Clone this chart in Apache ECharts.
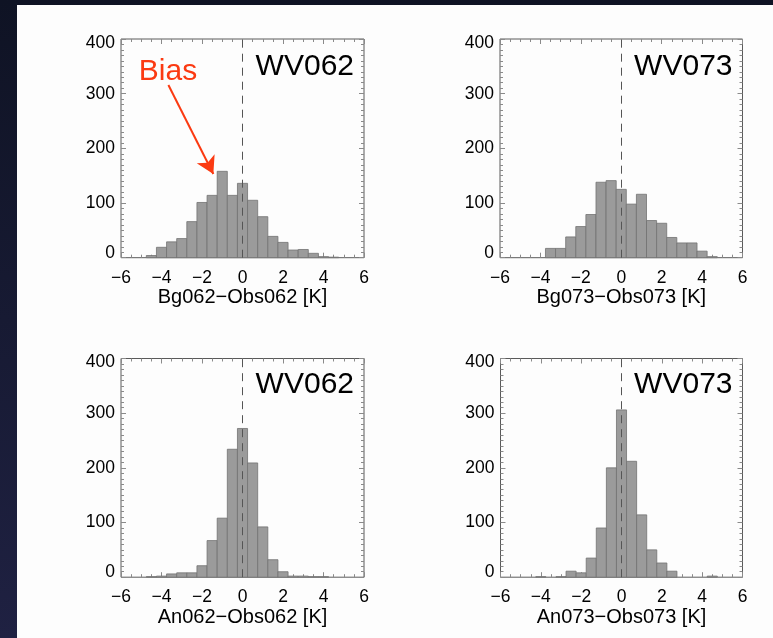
<!DOCTYPE html>
<html>
<head>
<meta charset="utf-8">
<script src="https://cdn.jsdelivr.net/npm/echarts@6/dist/echarts.min.js"></script>
<style>
  html, body { margin: 0; padding: 0; }
  body {
    width: 773px; height: 638px; overflow: hidden; position: relative;
    background: linear-gradient(180deg, #0f1324 0%, #1f2142 100%);
  }
  /* white slide area */
  .paper { position: absolute; left: 17px; top: 5px; right: 0; bottom: 0; background: #fdfdfd; }
  #chart { position: absolute; left: 0; top: 0; width: 773px; height: 638px; }
</style>
</head>
<body>
<div class="paper"></div>
<div id="chart"></div>
<script>
// histogram bin centres [K], bin width 0.5
var binCenters = [-5, -4.5, -4, -3.5, -3, -2.5, -2, -1.5, -1, -0.5, 0, 0.5, 1, 1.5, 2, 2.5, 3, 3.5, 4, 4.5, 5]
var binWidth = 0.5
// counts per bin
var bg062 = [0, 4, 19, 29, 35, 66, 101, 114, 158, 114, 136, 105, 75, 39, 28, 14, 15, 8, 2, 1, 0]
var bg073 = [0, 0, 0, 17, 17, 38, 57, 79, 138, 141, 125, 98, 116, 68, 63, 37, 27, 27, 12, 2, 0]
var an062 = [0, 1, 2, 6, 8, 8, 21, 67, 108, 234, 272, 209, 92, 32, 10, 2, 2, 1, 1, 0, 0]
var an073 = [0, 0, 1, 0, 1, 11, 8, 35, 90, 200, 306, 212, 114, 50, 26, 11, 0, 0, 0, 2, 0]
// axis ranges / ticks
var xTicks = [-6, 6, 2]
var yTicks = [0, 400, 100]
var xNames = ['Bg062\u2212Obs062 [K]', 'Bg073\u2212Obs073 [K]', 'An062\u2212Obs062 [K]', 'An073\u2212Obs073 [K]']
var panelLabels = ['WV062', 'WV073', 'WV062', 'WV073']
// arrow of the "Bias" note, in data coords of the first panel
var biasFrom = [-3.66, 316]
var biasTo = [-1.44, 153]

var FONT = 'Liberation Sans, Arial, Helvetica, sans-serif'
var grids = [
  { left: 121, top: 39, width: 243, height: 218.7 },
  { left: 500, top: 39, width: 242.5, height: 218.7 },
  { left: 121, top: 358.5, width: 243, height: 218.7 },
  { left: 500.5, top: 358.5, width: 242, height: 218.7 }
]
var seriesData = [bg062, bg073, an062, an073]

var chart = echarts.init(document.getElementById('chart'), null, { renderer: 'canvas' })

var tickStyle = { color: '#8a8a8a', width: 1 }

function xAxes (i) {
  var base = {
    gridIndex: i,
    type: 'value',
    min: xTicks[0],
    max: xTicks[1],
    interval: xTicks[2],
    axisLine: { show: false, onZero: false },
    splitLine: { show: false },
    axisTick: { show: true, inside: true, length: 5, lineStyle: tickStyle },
    minorTick: { show: true, splitNumber: 4, length: 3, lineStyle: tickStyle }
  }
  var bottom = Object.assign({}, base, {
    position: 'bottom',
    name: xNames[i],
    nameLocation: 'middle',
    nameGap: 30,
    nameTextStyle: { color: '#000', fontSize: 20, fontFamily: FONT },
    axisLabel: {
      color: '#000', fontSize: 17.5, fontFamily: FONT, margin: 11,
      formatter: function (v) { return v < 0 ? '\u2212' + Math.abs(v) : String(v) }
    }
  })
  var top = Object.assign({}, base, { position: 'top', axisLabel: { show: false } })
  return [bottom, top]
}

function yAxes (i) {
  var base = {
    gridIndex: i,
    type: 'value',
    min: yTicks[0],
    max: yTicks[1],
    interval: yTicks[2],
    axisLine: { show: false, onZero: false },
    splitLine: { show: false },
    axisTick: { show: true, inside: true, length: 5, lineStyle: tickStyle },
    minorTick: { show: true, splitNumber: 10, length: 3, lineStyle: tickStyle }
  }
  var left = Object.assign({}, base, {
    position: 'left',
    axisLabel: {
      color: '#000', fontSize: 17.5, fontFamily: FONT, margin: 6,
      // IDL pulls the end labels inside the frame
      formatter: function (v) {
        if (v === yTicks[0]) return '{lo|' + v + '}'
        if (v === yTicks[1]) return '{hi|' + v + '}'
        return String(v)
      },
      rich: {
        lo: { fontSize: 17.5, fontFamily: FONT, color: '#000', padding: [0, 0, 10, 0] },
        hi: { fontSize: 17.5, fontFamily: FONT, color: '#000', padding: [8, 0, 0, 0] }
      }
    }
  })
  var right = Object.assign({}, base, { position: 'right', axisLabel: { show: false } })
  return [left, right]
}

var option = {
  animation: false,
  backgroundColor: 'transparent',
  grid: grids.map(function (g) {
    return Object.assign({ show: true, borderColor: '#5a5a5a', borderWidth: 1, backgroundColor: 'transparent' }, g)
  }),
  xAxis: [],
  yAxis: [],
  series: [],
  graphic: []
}

grids.forEach(function (g, i) {
  option.xAxis = option.xAxis.concat(xAxes(i))
  option.yAxis = option.yAxis.concat(yAxes(i))
  var data = binCenters.map(function (c, k) { return [c, seriesData[i][k]] })
  var s = {
    type: 'custom',
    xAxisIndex: i * 2,
    yAxisIndex: i * 2,
    data: data,
    renderItem: function (params, api) {
      var x = api.value(0)
      var y = api.value(1)
      if (!y) return
      var p0 = api.coord([x - binWidth / 2, y])
      var p1 = api.coord([x + binWidth / 2, 0])
      return {
        type: 'rect',
        shape: { x: p0[0], y: p0[1], width: p1[0] - p0[0], height: p1[1] - p0[1] },
        style: { fill: '#9b9b9b', stroke: '#727272', lineWidth: 0.8 }
      }
    },
    markLine: {
      silent: true,
      symbol: 'none',
      label: { show: false },
      lineStyle: { color: '#555', type: [8, 6], width: 1 },
      data: [{ xAxis: 0 }]
    },
    z: 2
  }
  option.series.push(s)
  option.graphic.push({
    type: 'text',
    right: 773 - (g.left + g.width - 10),
    top: g.top + (i < 2 ? 13 : 11),
    style: { text: panelLabels[i], fill: '#000', fontSize: 30, fontFamily: FONT }
  })
})

// arrow for the "Bias" note in the first panel
option.series.push({
  type: 'line',
  xAxisIndex: 0,
  yAxisIndex: 0,
  data: [],
  markLine: {
    silent: true,
    symbol: ['none', 'arrow'],
    symbolSize: [15, 17],
    label: { show: false },
    lineStyle: { color: '#fb3a12', type: 'solid', width: 2 },
    data: [[{ coord: biasFrom }, { coord: biasTo }]]
  }
})
option.graphic.push({
  type: 'text',
  x: 168,
  y: 72,
  style: { text: 'Bias', fill: '#fb3a12', fontSize: 30, fontFamily: FONT, align: 'center', verticalAlign: 'middle' }
})

chart.setOption(option)
</script>
</body>
</html>
